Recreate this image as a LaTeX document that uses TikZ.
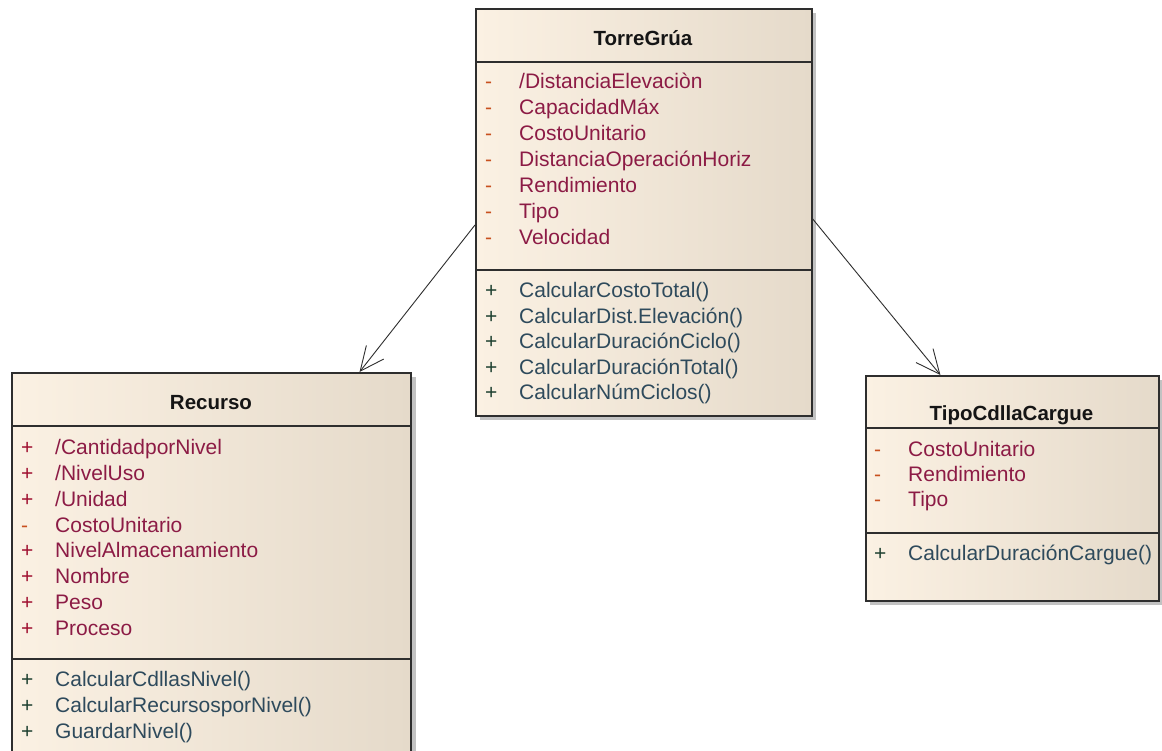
\documentclass[tikz,border=0pt]{standalone}
\usepackage{fontspec}
\setmainfont{Liberation Sans}
\usetikzlibrary{arrows.meta,calc}

\definecolor{boxleft}{HTML}{FBF1E3}
\definecolor{boxright}{HTML}{E5DACA}
\definecolor{boxline}{HTML}{2E2E2E}
\definecolor{shadowcol}{HTML}{C2C2C2}
\definecolor{attrcol}{HTML}{8C1B45}
\definecolor{attrminus}{HTML}{C8501E}
\definecolor{attrplus}{HTML}{A01030}
\definecolor{opcol}{HTML}{2E4A5C}
\definecolor{opplus}{HTML}{1E4030}
\definecolor{titlecol}{HTML}{151515}

\tikzset{
  classbox/.style={draw=boxline, line width=1.6pt, left color=boxleft, right color=boxright,
    rectangle, inner sep=0pt, anchor=north west},
  divider/.style={draw=boxline, line width=1.6pt},
  classtitle/.style={font=\fontsize{20.5}{24}\selectfont\bfseries, text=titlecol, anchor=base, inner sep=0pt},
  attrtext/.style={font=\fontsize{21}{25}\selectfont, text=attrcol, anchor=base west, inner sep=0pt},
  optext/.style={font=\fontsize{21}{25}\selectfont, text=opcol, anchor=base west, inner sep=0pt},
  privsym/.style={font=\fontsize{21}{25}\selectfont, text=attrminus, anchor=base west, inner sep=0pt},
  pubsym/.style={font=\fontsize{21}{25}\selectfont, text=attrplus, anchor=base west, inner sep=0pt},
  opsym/.style={font=\fontsize{21}{25}\selectfont, text=opplus, anchor=base west, inner sep=0pt},
  assoc/.style={draw=boxline, line width=0.9pt, -{Straight Barb[length=24pt,width=22pt,line width=0.9pt]}},
}

\begin{document}
\begin{tikzpicture}[x=1pt,y=-1pt]
\useasboundingbox (0,0) rectangle (1162,751);
\clip (0,0) rectangle (1162,751);
\fill[white] (0,0) rectangle (1162,751);

% ---------- TorreGrúa ----------
\fill[shadowcol] (480,13) rectangle (816,420);
\node[classbox, minimum width=336pt, minimum height=407pt] (tg) at (475,8) {};
\draw[divider] (tg.west |- 0,62) -- (tg.east |- 0,62);
\draw[divider] (tg.west |- 0,270) -- (tg.east |- 0,270);
\node[classtitle] (tg-title) at (643,46) {TorreGrúa};
\foreach \t [count=\i] in {/DistanciaElevaciòn, CapacidadMáx, CostoUnitario,
    DistanciaOperaciónHoriz, Rendimiento, Tipo, Velocidad} {
  \node[privsym] (tg-as\i) at (485,{89+26*(\i-1)}) {-};
  \node[attrtext] (tg-a\i) at (519,{89+26*(\i-1)}) {\t};
}
\foreach \t [count=\i] in {CalcularCostoTotal(), CalcularDist.Elevación(),
    CalcularDuraciónCiclo(), CalcularDuraciónTotal(), CalcularNúmCiclos()} {
  \node[opsym] (tg-os\i) at (485,{297.5+25.6*(\i-1)}) {+};
  \node[optext] (tg-o\i) at (519,{297.5+25.6*(\i-1)}) {\t};
}

% ---------- Recurso ----------
\fill[shadowcol] (16,377) rectangle (416,800);
\node[classbox, minimum width=399pt, minimum height=420pt] (rec) at (11,372) {};
\draw[divider] (rec.west |- 0,426) -- (rec.east |- 0,426);
\draw[divider] (rec.west |- 0,659) -- (rec.east |- 0,659);
\node[classtitle] (rec-title) at (211,409) {Recurso};
\foreach \st/\s/\t [count=\i] in {pubsym/+/{/CantidadporNivel}, pubsym/+/{/NivelUso},
    pubsym/+/{/Unidad}, privsym/-/{CostoUnitario}, pubsym/+/{NivelAlmacenamiento},
    pubsym/+/{Nombre}, pubsym/+/{Peso}, pubsym/+/{Proceso}} {
  \node[\st] (rec-as\i) at (21,{454.3+25.9*(\i-1)}) {\s};
  \node[attrtext] (rec-a\i) at (55,{454.3+25.9*(\i-1)}) {\t};
}
\foreach \t [count=\i] in {CalcularCdllasNivel(), CalcularRecursosporNivel(), GuardarNivel()} {
  \node[opsym] (rec-os\i) at (21,{686.7+25.8*(\i-1)}) {+};
  \node[optext] (rec-o\i) at (55,{686.7+25.8*(\i-1)}) {\t};
}

% ---------- TipoCdllaCargue ----------
\fill[shadowcol] (870,380) rectangle (1162,605);
\node[classbox, minimum width=293pt, minimum height=225pt] (tc) at (865,375) {};
\draw[divider] (tc.west |- 0,428) -- (tc.east |- 0,428);
\draw[divider] (tc.west |- 0,533) -- (tc.east |- 0,533);
\node[classtitle] (tc-title) at (1011.5,420) {TipoCdllaCargue};
\foreach \t [count=\i] in {CostoUnitario, Rendimiento, Tipo} {
  \node[privsym] (tc-as\i) at (874,{456+25.4*(\i-1)}) {-};
  \node[attrtext] (tc-a\i) at (908,{456+25.4*(\i-1)}) {\t};
}
\node[opsym] (tc-os1) at (874,560) {+};
\node[optext] (tc-o1) at (908,560) {CalcularDuraciónCargue()};

% ---------- associations ----------
\coordinate (tg-l) at ($(tg.north west)!0.531!(tg.south west)$);
\coordinate (tg-r) at ($(tg.north east)!0.516!(tg.south east)$);
\coordinate (rec-t) at ($(rec.north west)!0.87!(rec.north east)$);
\coordinate (tc-t) at ($(tc.north west)!0.256!(tc.north east)$);
\draw[assoc] (tg-l) -- (rec-t);
\draw[assoc] (tg-r) -- (tc-t);
\end{tikzpicture}
\end{document}
